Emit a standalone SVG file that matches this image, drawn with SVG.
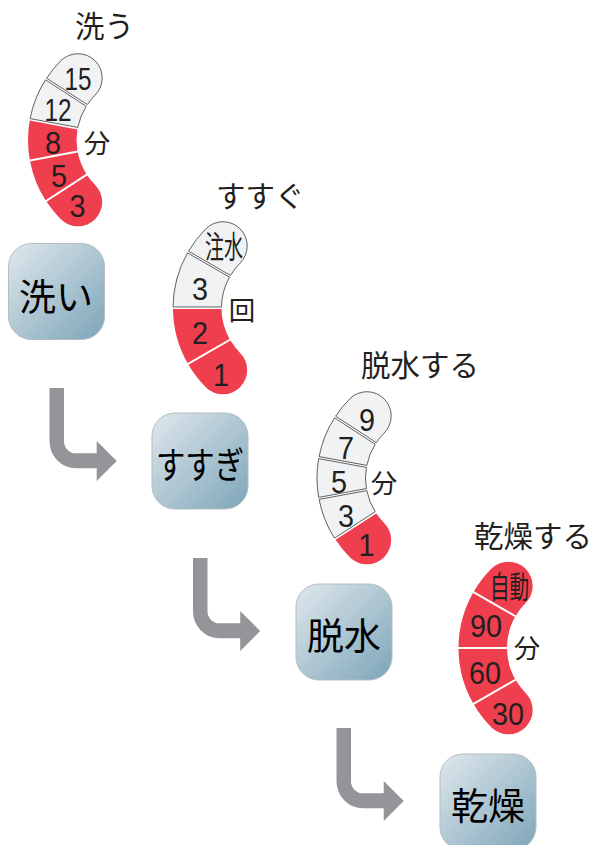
<svg xmlns="http://www.w3.org/2000/svg" width="591" height="845" viewBox="0 0 591 845">
<style>
text{font-family:"Noto Sans CJK JP","Liberation Sans",sans-serif;fill:#231f20}
.n{font-family:"Liberation Sans","Noto Sans CJK JP",sans-serif;font-size:32px;text-anchor:middle}
.t{font-size:29.5px}
.u{font-size:26.5px;text-anchor:middle}
.b{font-size:37px;text-anchor:middle;fill:#000}
.s{font-size:31px;text-anchor:middle}
.g{fill:#f1f2f4;stroke:#3a3a3c;stroke-width:.8}
.r{fill:#ef3e4d}
.box{fill:url(#bg);stroke:#b4bcc2;stroke-width:1}
.arrow{fill:#939598}
</style>
<defs>
<linearGradient id="bg" x1="0" y1="0" x2="1" y2="1">
<stop offset="0" stop-color="#e0e8ed"/><stop offset="1" stop-color="#7da5b8"/>
</linearGradient>
<rect id="boxshape" width="96" height="96" rx="23" ry="23"/>
<path id="arr" d="M49.5 388H64V441A12 12 0 0 0 76 453.3H96.7V441L116.7 461 96.7 481V468.3H76A26.7 27 0 0 1 49.5 441Z"/>
<path id="c5a" d="M-93.4 -61.8A112 112 0 0 1 -79.2 -79.2A24.25 24.25 0 0 1 -44.9 -44.9A63.5 63.5 0 0 0 -52.7 -35.4Z"/>
<path id="c5b" d="M-109.9 -21.4A112 112 0 0 1 -94.5 -60.2L-53.8 -33.7A63.5 63.5 0 0 0 -62.2 -12.6Z"/>
<path id="c5c" d="M-110.3 19.4A112 112 0 0 1 -110.3 -19.4L-62.6 -10.6A63.5 63.5 0 0 0 -62.6 10.6Z"/>
<path id="c5d" d="M-94.5 60.2A112 112 0 0 1 -109.9 21.4L-62.2 12.6A63.5 63.5 0 0 0 -53.8 33.7Z"/>
<path id="c5e" d="M-44.9 44.9A24.25 24.25 0 0 1 -79.2 79.2A112 112 0 0 1 -93.4 61.8L-52.7 35.4A63.5 63.5 0 0 0 -44.9 44.9Z"/>
<path id="c4a" d="M-96.5 -56.8A112 112 0 0 1 -79.2 -79.2A24.25 24.25 0 0 1 -44.9 -44.9A63.5 63.5 0 0 0 -54.5 -32.6Z"/>
<path id="c4b" d="M-112 -1A112 112 0 0 1 -97.5 -55.1L-55.5 -30.9A63.5 63.5 0 0 0 -63.5 -1Z"/>
<path id="c4c" d="M-97.5 55.1A112 112 0 0 1 -112 1L-63.5 1A63.5 63.5 0 0 0 -55.5 30.9Z"/>
<path id="c4d" d="M-44.9 44.9A24.25 24.25 0 0 1 -79.2 79.2A112 112 0 0 1 -96.5 56.8L-54.5 32.6A63.5 63.5 0 0 0 -44.9 44.9Z"/>
</defs>

<g id="connectors" class="arrow">
<use href="#arr"/>
<use href="#arr" x="143.5" y="170"/>
<use href="#arr" x="287" y="340"/>
</g>

<g id="step-wash">
<use href="#boxshape" class="box" x="8.5" y="243.5"/>
<text class="b" x="56" y="310.5">洗い</text>
</g>
<g id="step-rinse">
<use href="#boxshape" class="box" x="152" y="413"/>
<text class="b" x="200" y="478.5" textLength="88" lengthAdjust="spacingAndGlyphs">すすぎ</text>
</g>
<g id="step-spin">
<use href="#boxshape" class="box" x="296" y="584"/>
<text class="b" x="344" y="649.5">脱水</text>
</g>
<g id="step-dry">
<use href="#boxshape" class="box" x="440" y="754"/>
<text class="b" x="488" y="819.5">乾燥</text>
</g>

<g id="gauge-wash">
<text class="t" x="75" y="37">洗う</text>
<g transform="translate(140 140)">
<use href="#c5a" class="g"/><use href="#c5b" class="g"/><use href="#c5c" class="r"/><use href="#c5d" class="r"/><use href="#c5e" class="r"/>
</g>
<text class="n" x="78" y="89.5" textLength="27" lengthAdjust="spacingAndGlyphs">15</text>
<text class="n" x="58" y="121" textLength="27" lengthAdjust="spacingAndGlyphs">12</text>
<text class="n" x="53" y="153.5" textLength="16" lengthAdjust="spacingAndGlyphs">8</text>
<text class="n" x="59" y="187" textLength="16" lengthAdjust="spacingAndGlyphs">5</text>
<text class="n" x="77.5" y="217" textLength="16" lengthAdjust="spacingAndGlyphs">3</text>
<text class="u" x="97" y="152.5">分</text>
</g>

<g id="gauge-rinse">
<text class="t" x="216" y="207">すすぐ</text>
<g transform="translate(285 308)">
<use href="#c4a" class="g"/><use href="#c4b" class="g"/><use href="#c4c" class="r"/><use href="#c4d" class="r"/>
</g>
<text class="s" x="224" y="258" textLength="38" lengthAdjust="spacingAndGlyphs">注水</text>
<text class="n" x="200" y="299.5" textLength="16" lengthAdjust="spacingAndGlyphs">3</text>
<text class="n" x="200" y="344" textLength="16" lengthAdjust="spacingAndGlyphs">2</text>
<text class="n" x="221" y="385.5" textLength="16" lengthAdjust="spacingAndGlyphs">1</text>
<text class="u" x="242" y="319.5">回</text>
</g>

<g id="gauge-spin">
<text class="t" x="361" y="376">脱水する</text>
<g transform="translate(429 478)">
<use href="#c5a" class="g"/><use href="#c5b" class="g"/><use href="#c5c" class="g"/><use href="#c5d" class="g"/><use href="#c5e" class="r"/>
</g>
<text class="n" x="367" y="430.5" textLength="16" lengthAdjust="spacingAndGlyphs">9</text>
<text class="n" x="346" y="458.5" textLength="16" lengthAdjust="spacingAndGlyphs">7</text>
<text class="n" x="339" y="493" textLength="16" lengthAdjust="spacingAndGlyphs">5</text>
<text class="n" x="346" y="527" textLength="16" lengthAdjust="spacingAndGlyphs">3</text>
<text class="n" x="366.5" y="556" textLength="16" lengthAdjust="spacingAndGlyphs">1</text>
<text class="u" x="384" y="492.5">分</text>
</g>

<g id="gauge-dry">
<text class="t" x="474" y="547">乾燥する</text>
<g transform="translate(570.5 648)">
<use href="#c4a" class="r"/><use href="#c4b" class="r"/><use href="#c4c" class="r"/><use href="#c4d" class="r"/>
</g>
<text class="s" x="509.5" y="597.5" textLength="39" lengthAdjust="spacingAndGlyphs">自動</text>
<text class="n" x="486" y="637" textLength="32" lengthAdjust="spacingAndGlyphs">90</text>
<text class="n" x="485" y="683.5" textLength="32" lengthAdjust="spacingAndGlyphs">60</text>
<text class="n" x="508" y="724.5" textLength="32" lengthAdjust="spacingAndGlyphs">30</text>
<text class="u" x="527" y="657.5">分</text>
</g>
</svg>
